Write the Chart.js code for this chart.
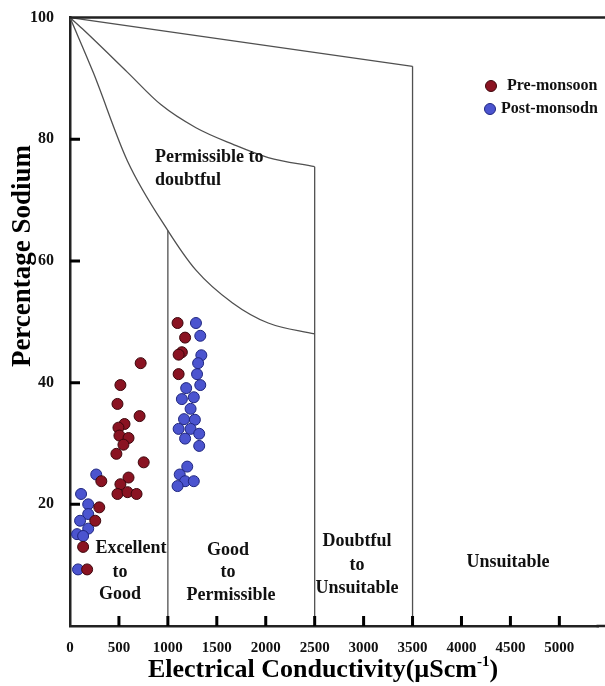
<!DOCTYPE html>
<html>
<head>
<meta charset="utf-8">
<title>Wilcox diagram - EC vs %Na</title>
<script src="https://cdn.jsdelivr.net/npm/chart.js@4.4.1/dist/chart.umd.min.js"></script>
<style>
  body { margin: 0; padding: 0; background: #fff; }
  #wrap { width: 605px; height: 686px; }
</style>
</head>
<body>
<div id="wrap"><canvas id="chart"></canvas></div>
<script>
// axis ticks
const xTicks = [0, 500, 1000, 1500, 2000, 2500, 3000, 3500, 4000, 4500, 5000];
const yTicks = [20, 40, 60, 80, 100];

// pre-monsoon samples: EC (uS/cm) and % sodium
const preEC = [722, 515, 485, 711, 557, 495, 505, 598, 546, 474, 753, 320, 598, 515, 485, 588, 680, 299, 258, 134, 175,
               1099, 1176, 1143, 1110, 1110];
const preNa = [43.2, 39.6, 36.5, 34.5, 33.2, 32.6, 31.3, 30.9, 29.8, 28.3, 26.9, 23.8, 24.4, 23.3, 21.7, 22.0, 21.7, 19.5, 17.3, 13.0, 9.3,
               49.8, 47.4, 45.0, 44.6, 41.4];

// post-monsoon samples
const postEC = [268, 113, 186, 186, 103, 186, 72, 134, 82,
                1287, 1331, 1342, 1309, 1298, 1331, 1187, 1143, 1265, 1232, 1165, 1276, 1110, 1232, 1320, 1176, 1320,
                1198, 1121, 1176, 1265, 1099];
const postNa = [24.9, 21.7, 20.0, 18.4, 17.3, 16.0, 15.1, 14.8, 9.3,
                49.8, 47.7, 44.5, 43.2, 41.4, 39.6, 39.1, 37.3, 37.6, 35.7, 34.0, 33.9, 32.4, 32.4, 31.6, 30.8, 29.6,
                26.2, 24.9, 23.8, 23.8, 23.0];

// class boundaries of the diagram
const topLineEC = [0, 3500];
const topLineNa = [100, 92];
const upperCurveEC = [0, 124, 588, 928, 1287, 1661, 2025, 2500];
const upperCurveNa = [100, 98.2, 91.0, 85.7, 81.9, 79.2, 77.0, 75.5];
const lowerCurveEC = [0, 237, 588, 1000, 1287, 1661, 2025, 2500];
const lowerCurveNa = [100, 91.0, 76.4, 65.0, 58.5, 53.1, 49.8, 48.0];
const dividerEC = [1000, 2500, 3500];
const dividerTop = [65, 75.5, 92];

const pts = (xs, ys) => xs.map((v, i) => ({ x: v, y: ys[i] }));

const lineStyle = {
  showLine: true, pointRadius: 0, borderColor: '#505050', borderWidth: 1.3,
  fill: false, cubicInterpolationMode: 'monotone'
};

const datasets = [
  {
    label: 'Pre-monsoon', data: pts(preEC, preNa),
    backgroundColor: '#8a1322', borderColor: '#3d060c', borderWidth: 1, pointRadius: 5.5
  },
  {
    label: 'Post-monsodn', data: pts(postEC, postNa),
    backgroundColor: '#4b54cf', borderColor: '#1f2680', borderWidth: 1, pointRadius: 5.5
  },
  Object.assign({ data: pts(topLineEC, topLineNa) }, lineStyle),
  Object.assign({ data: pts(upperCurveEC, upperCurveNa) }, lineStyle),
  Object.assign({ data: pts(lowerCurveEC, lowerCurveNa) }, lineStyle)
];
dividerEC.forEach((ec, i) => {
  datasets.push(Object.assign({ data: pts([ec, ec], [0, dividerTop[i]]) }, lineStyle, { cubicInterpolationMode: 'default', tension: 0 }));
});

const serif = '"Liberation Serif", "Times New Roman", serif';

const decor = {
  id: 'decor',
  afterDraw(chart) {
    const { ctx, chartArea: a, scales: { x, y } } = chart;
    ctx.save();

    // frame top, and both frame lines run to the right edge
    ctx.strokeStyle = '#222';
    ctx.lineWidth = 2.5;
    ctx.beginPath();
    ctx.moveTo(a.left, a.top);
    ctx.lineTo(chart.width, a.top);
    ctx.moveTo(a.right - 2, a.bottom);
    ctx.lineTo(chart.width, a.bottom);
    ctx.stroke();

    // inward tick marks
    ctx.strokeStyle = '#000';
    ctx.lineWidth = 3;
    ctx.beginPath();
    yTicks.forEach(v => {
      if (v === 100) return;
      const py = y.getPixelForValue(v);
      ctx.moveTo(a.left, py);
      ctx.lineTo(a.left + 10, py);
    });
    xTicks.forEach(v => {
      if (v === 0) return;
      const px = x.getPixelForValue(v);
      ctx.moveTo(px, a.bottom);
      ctx.lineTo(px, a.bottom - 10);
    });
    ctx.stroke();

    // zone labels
    ctx.fillStyle = '#111';
    ctx.font = 'bold 18px ' + serif;
    ctx.textBaseline = 'middle';
    ctx.textAlign = 'left';
    ctx.fillText('Permissible to', 155, 157);
    ctx.fillText('doubtful', 155, 180);
    ctx.textAlign = 'center';
    const zones = [
      ['Excellent', 131, 548], ['to', 120, 572], ['Good', 120, 594],
      ['Good', 228, 550], ['to', 228, 572], ['Permissible', 231, 595],
      ['Doubtful', 357, 541], ['to', 357, 565], ['Unsuitable', 357, 588],
      ['Unsuitable', 508, 562]
    ];
    zones.forEach(z => ctx.fillText(z[0], z[1], z[2]));

    // legend
    ctx.textAlign = 'left';
    ctx.font = 'bold 16px ' + serif;
    const rows = [[491, 86, 507], [490, 109, 501]];
    rows.forEach((r, i) => {
      const ds = chart.data.datasets[i];
      ctx.beginPath();
      ctx.arc(r[0], r[1], 5.5, 0, Math.PI * 2);
      ctx.fillStyle = ds.backgroundColor;
      ctx.fill();
      ctx.lineWidth = 1;
      ctx.strokeStyle = ds.borderColor;
      ctx.stroke();
      ctx.fillStyle = '#111';
      ctx.fillText(ds.label, r[2], r[1]);
    });

    // x title with superscript
    ctx.fillStyle = '#000';
    ctx.textBaseline = 'alphabetic';
    const big = 'bold 26px ' + serif, small = 'bold 15px ' + serif;
    const t1 = 'Electrical Conductivity(\u00b5Scm', t2 = '-1', t3 = ')';
    ctx.font = big;
    const w1 = ctx.measureText(t1).width, w3 = ctx.measureText(t3).width;
    ctx.font = small;
    const w2 = ctx.measureText(t2).width;
    let sx = 323 - (w1 + w2 + w3) / 2;
    const base = 677;
    ctx.font = big; ctx.fillText(t1, sx, base); sx += w1;
    ctx.font = small; ctx.fillText(t2, sx, base - 11); sx += w2;
    ctx.font = big; ctx.fillText(t3, sx, base);

    // y title
    ctx.translate(23, 256);
    ctx.rotate(-Math.PI / 2);
    ctx.textAlign = 'center';
    ctx.textBaseline = 'middle';
    ctx.font = 'bold 27px ' + serif;
    ctx.fillText('Percentage Sodium', 0, 0);
    ctx.restore();
  }
};

new Chart(document.getElementById('chart'), {
  type: 'scatter',
  data: { datasets: datasets },
  options: {
    responsive: true,
    maintainAspectRatio: false,
    animation: false,
    layout: { padding: { top: 10, right: 0, left: 0, bottom: 0 } },
    plugins: {
      legend: { display: false },
      tooltip: { enabled: false }
    },
    scales: {
      x: {
        type: 'linear', min: 0, max: 5400,
        afterBuildTicks: s => { s.ticks = xTicks.map(v => ({ value: v })); },
        afterFit: s => { s.height = 60; },
        grid: { display: false },
        border: { display: true, color: '#222', width: 2.5 },
        ticks: {
          color: '#111', padding: 5, maxRotation: 0, autoSkip: false,
          callback: v => String(v),
          font: { family: serif, size: 15, weight: 'bold' }
        }
      },
      y: {
        min: 0, max: 100,
        afterBuildTicks: s => { s.ticks = yTicks.map(v => ({ value: v })); },
        afterFit: s => { s.width = 70; },
        grid: { display: false },
        border: { display: true, color: '#222', width: 2.5 },
        ticks: { color: '#111', padding: 8, font: { family: serif, size: 16, weight: 'bold' } }
      }
    }
  },
  plugins: [decor]
});
</script>
</body>
</html>
